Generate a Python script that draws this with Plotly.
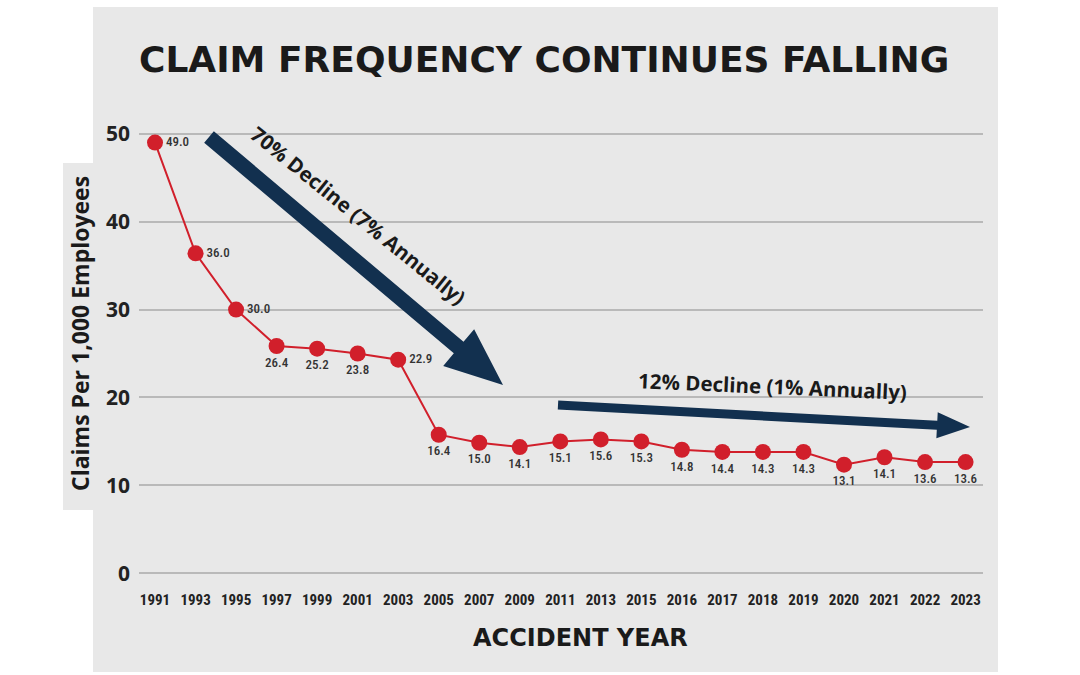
import plotly.graph_objects as go
import numpy as np

# ---------------- data ----------------
years = ["1991", "1993", "1995", "1997", "1999", "2001", "2003", "2005", "2007", "2009",
         "2011", "2013", "2015", "2016", "2017", "2018", "2019", "2020", "2021", "2022", "2023"]
claims_plotted = [49.0, 36.4, 30.0, 25.85, 25.55, 25.0, 24.3, 15.76, 14.85, 14.35,
                  15.0, 15.23, 15.0, 14.05, 13.8, 13.8, 13.8, 12.35, 13.2, 12.65, 12.65]
claims_labels = ["49.0", "36.0", "30.0", "26.4", "25.2", "23.8", "22.9", "16.4", "15.0", "14.1",
                 "15.1", "15.6", "15.3", "14.8", "14.4", "14.3", "14.3", "13.1", "14.1", "13.6", "13.6"]
label_positions = (["middle right"] * 3 + ["bottom center"] * 3 + ["middle right"]
                   + ["bottom center"] * 14)
y_ticks = [0, 10, 20, 30, 40, 50]

title_text = "CLAIM FREQUENCY CONTINUES FALLING"
x_title = "ACCIDENT YEAR"
y_title = "Claims Per 1,000 Employees"
note_long = "70% Decline (7% Annually)"
note_short = "12% Decline (1% Annually)"

# ---------------- layout geometry ----------------
W, H = 1080, 675
ML, MR, MT, MB = 139, 97, 132, 100
PW, PH = W - ML - MR, H - MT - MB

RED = "#d11f2b"
NAVY = "#12304f"
PANEL = "#e8e8e8"
COND = "Roboto Condensed, Liberation Sans Narrow, Roboto, sans-serif"
SANS = "Open Sans, Noto Sans, sans-serif"
WIDE = "DejaVu Sans, sans-serif"


def px(x, y):
    """pixel -> paper coords"""
    return (x - ML) / PW, (H - MB - y) / PH


def arrow_path(x0, y0, x1, y1, shaft_w, head_len, head_hw):
    d = np.array([x1 - x0, y1 - y0], dtype=float)
    L = np.linalg.norm(d)
    d /= L
    n = np.array([-d[1], d[0]])
    s = np.array([x0, y0], dtype=float)
    t = np.array([x1, y1], dtype=float)
    b = t - d * head_len
    pts = [s + n * shaft_w / 2, b + n * shaft_w / 2, b + n * head_hw, t,
           b - n * head_hw, b - n * shaft_w / 2, s - n * shaft_w / 2]
    pp = [px(p[0], p[1]) for p in pts]
    return "M " + " L ".join(f"{a:.5f},{c:.5f}" for a, c in pp) + " Z"


fig = go.Figure()

fig.add_trace(go.Scatter(
    x=years, y=claims_plotted,
    mode="lines+markers+text",
    line=dict(color=RED, width=2),
    marker=dict(color=RED, size=16),
    text=claims_labels,
    textposition=label_positions,
    textfont=dict(family=COND, size=13, color="#333333", weight=500),
    cliponaxis=False,
    hoverinfo="skip",
    showlegend=False,
))

shapes = []
# gray panel
x0p, y0p = px(93, 7)
x1p, y1p = px(998, 672)
shapes.append(dict(type="rect", xref="paper", yref="paper", x0=x0p, x1=x1p, y0=y1p, y1=y0p,
                   fillcolor=PANEL, line=dict(width=0), layer="below"))
# y-title box
bx0, by0 = px(63, 163)
bx1, by1 = px(95, 510)
shapes.append(dict(type="rect", xref="paper", yref="paper", x0=bx0, x1=bx1, y0=by1, y1=by0,
                   fillcolor=PANEL, line=dict(width=0), layer="below"))
# arrows
shapes.append(dict(type="path", xref="paper", yref="paper",
                   path=arrow_path(209, 137, 503, 385, 15, 58, 24),
                   fillcolor=NAVY, line=dict(width=0), layer="above"))
shapes.append(dict(type="path", xref="paper", yref="paper",
                   path=arrow_path(558, 405, 970, 427, 9, 33, 13),
                   fillcolor=NAVY, line=dict(width=0), layer="above"))

annotations = []
tx, ty = px(544, 60)
annotations.append(dict(text=title_text, x=tx, y=ty, xref="paper", yref="paper",
                        showarrow=False, xanchor="center", yanchor="middle",
                        font=dict(family=WIDE, size=36, color="#1a1a1a", weight=700)))
ax, ay = px(580, 638)
annotations.append(dict(text=x_title, x=ax, y=ay, xref="paper", yref="paper",
                        showarrow=False, xanchor="center", yanchor="middle",
                        font=dict(family=WIDE, size=24, color="#1a1a1a", weight=700)))
yx, yy = px(80, 334)
annotations.append(dict(text=y_title, x=yx, y=yy, xref="paper", yref="paper",
                        showarrow=False, xanchor="center", yanchor="middle", textangle=-90,
                        font=dict(family=SANS, size=23, color="#1a1a1a", weight=700)))
n1x, n1y = px(358, 215)
annotations.append(dict(text=note_long, x=n1x, y=n1y, xref="paper", yref="paper",
                        showarrow=False, xanchor="center", yanchor="middle", textangle=39,
                        font=dict(family=SANS, size=20.5, color="#1a1a1a", weight=700)))
n2x, n2y = px(772, 386)
annotations.append(dict(text=note_short, x=n2x, y=n2y, xref="paper", yref="paper",
                        showarrow=False, xanchor="center", yanchor="middle", textangle=2.5,
                        font=dict(family=SANS, size=20.5, color="#1a1a1a", weight=700)))

fig.update_layout(
    width=W, height=H, autosize=False,
    margin=dict(l=ML, r=MR, t=MT, b=MB, pad=0),
    paper_bgcolor="white",
    plot_bgcolor="rgba(0,0,0,0)",
    shapes=shapes,
    annotations=annotations,
    xaxis=dict(type="category", categoryorder="array", categoryarray=years,
               range=[-0.395, 20.43], showgrid=False, zeroline=False, showline=False,
               ticks="", tickangle=0,
               tickfont=dict(family=COND, size=15, color="#222222", weight=700),
               ticklabelstandoff=14, fixedrange=True),
    yaxis=dict(range=[-0.2, 50.2], tickvals=y_ticks, showgrid=True, gridcolor="#b9b9b9",
               gridwidth=2, zeroline=False, showline=False, ticks="",
               tickfont=dict(family=SANS, size=21, color="#222222", weight=700),
               ticklabelstandoff=8, fixedrange=True),
)

fig.write_html("out.html", post_script="document.body.style.margin='0';",
               config={"displayModeBar": False})
